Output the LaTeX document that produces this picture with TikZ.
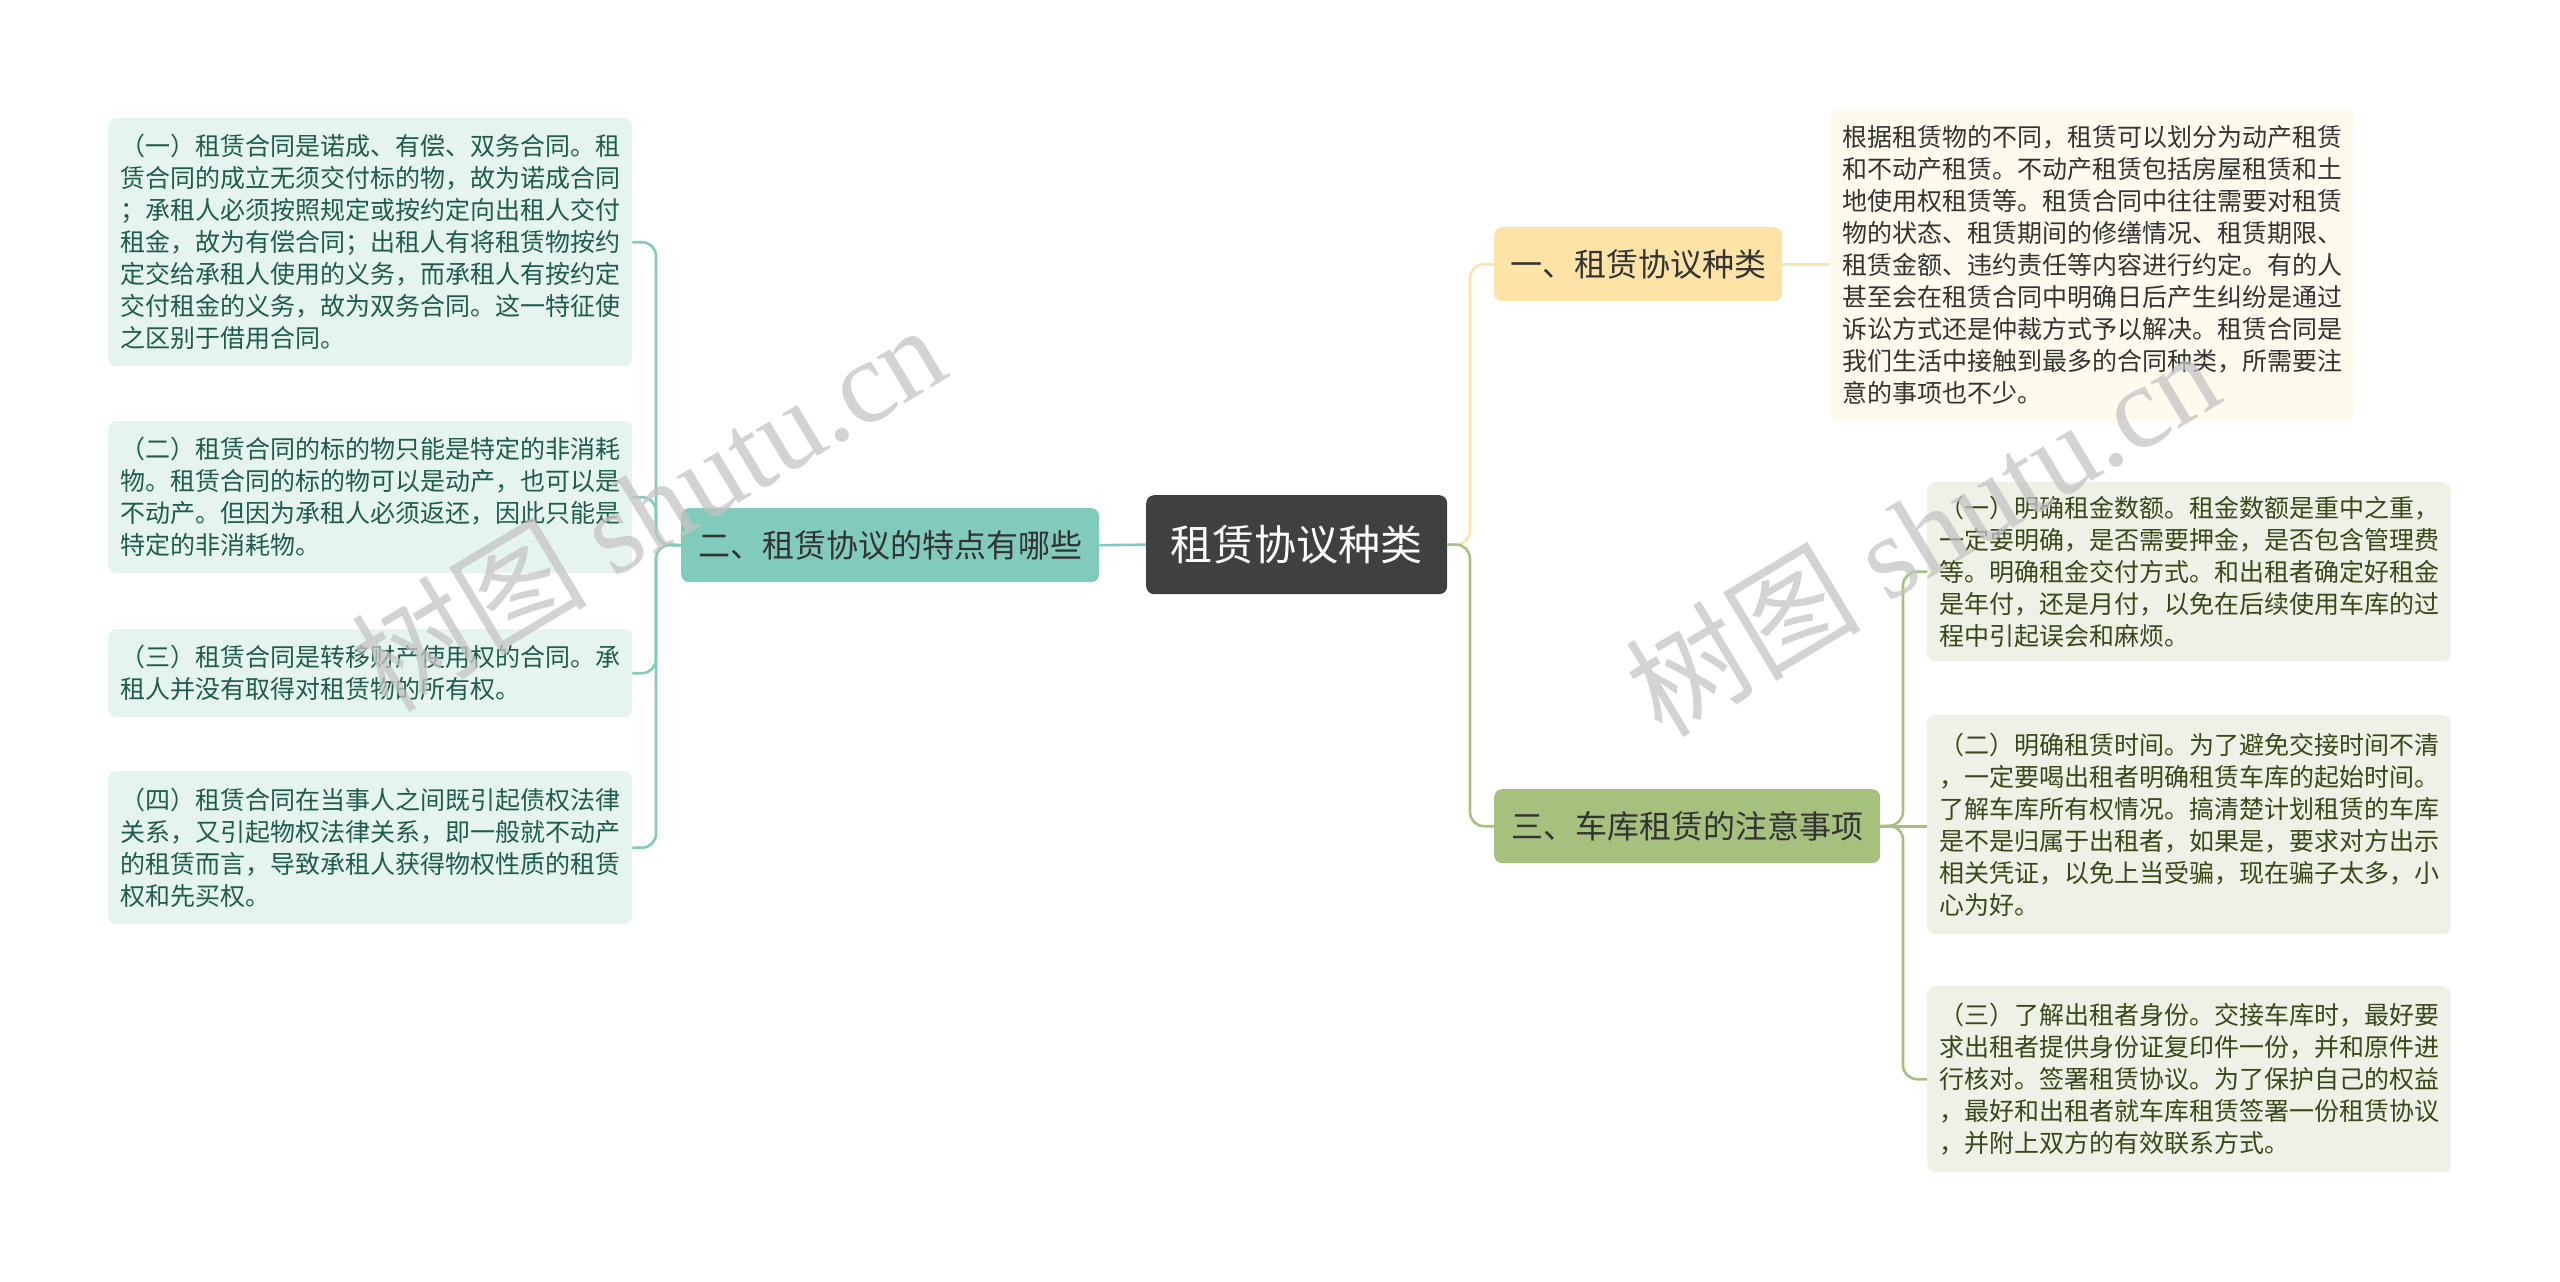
\documentclass[tikz,border=0pt]{standalone}
\usepackage{fontspec}
\newfontfamily\cjk{Noto Sans CJK SC}
\newfontfamily\wmlatin{Liberation Serif}
\definecolor{centerfill}{HTML}{404040}
\definecolor{tealfill}{HTML}{80CBBC}
\definecolor{tealline}{HTML}{80CBBC}
\definecolor{orangefill}{HTML}{FEE3A7}
\definecolor{orangeline}{HTML}{FCE4AC}
\definecolor{greenfill}{HTML}{A6C07E}
\definecolor{greenline}{HTML}{A6C07E}
\definecolor{mintfill}{HTML}{E6F4F0}
\definecolor{minttext}{HTML}{1E5C4E}
\definecolor{creamfill}{HTML}{FEFBEE}
\definecolor{creamtext}{HTML}{333333}
\definecolor{olivefill}{HTML}{EEF2E6}
\definecolor{olivetext}{HTML}{3A4719}
\definecolor{wm}{HTML}{C4C4C4}
\begin{document}
\begin{tikzpicture}[x=1pt,y=-1pt,
  base/.style={rounded corners=8pt, inner ysep=0pt, anchor=north west, font=\cjk},
  centerbox/.style={base, fill=centerfill, text=white, font=\cjk\fontsize{42}{50}\selectfont, minimum width=301pt, minimum height=99pt, inner xsep=0pt},
  branchbox/.style={base, text=creamtext, font=\cjk\fontsize{32}{40}\selectfont, minimum height=74pt, inner xsep=0pt},
  leafbox/.style={base, font=\cjk\fontsize{25}{32}\selectfont, text width=500pt, inner xsep=12pt, align=left},
  leafL/.style={leafbox, fill=mintfill, text=minttext},
  leafT/.style={leafbox, fill=creamfill, text=creamtext},
  leafR/.style={leafbox, fill=olivefill, text=olivetext},
  conn/.style={line width=2.6pt, rounded corners=14pt},
  watermark/.style={text=wm, opacity=0.75, rotate=31, font=\fontsize{118}{124}\selectfont}
]
\useasboundingbox (0,0) rectangle (2560,1282);

% central and branch nodes
\node[centerbox] (c) at (1146,495) {租赁协议种类};
\node[branchbox, fill=tealfill, minimum width=418pt] (b2) at (681,508) {二、租赁协议的特点有哪些};
\node[branchbox, fill=orangefill, minimum width=288pt] (b1) at (1494,227) {一、租赁协议种类};
\node[branchbox, fill=greenfill, minimum width=386pt] (b3) at (1494,789) {三、车库租赁的注意事项};

% left leaves
\node[leafL, minimum height=248pt] (L1) at (108,118) {（一）租赁合同是诺成、有偿、双务合同。租\\赁合同的成立无须交付标的物，故为诺成合同\\；承租人必须按照规定或按约定向出租人交付\\租金，故为有偿合同；出租人有将租赁物按约\\定交给承租人使用的义务，而承租人有按约定\\交付租金的义务，故为双务合同。这一特征使\\之区别于借用合同。};
\node[leafL, minimum height=152pt] (L2) at (108,421) {（二）租赁合同的标的物只能是特定的非消耗\\物。租赁合同的标的物可以是动产，也可以是\\不动产。但因为承租人必须返还，因此只能是\\特定的非消耗物。};
\node[leafL, minimum height=88pt] (L3) at (108,629) {（三）租赁合同是转移财产使用权的合同。承\\租人并没有取得对租赁物的所有权。};
\node[leafL, minimum height=153pt] (L4) at (108,771) {（四）租赁合同在当事人之间既引起债权法律\\关系，又引起物权法律关系，即一般就不动产\\的租赁而言，导致承租人获得物权性质的租赁\\权和先买权。};

% right top leaf
\node[leafT, minimum height=312pt] (T) at (1830,109) {根据租赁物的不同，租赁可以划分为动产租赁\\和不动产租赁。不动产租赁包括房屋租赁和土\\地使用权租赁等。租赁合同中往往需要对租赁\\物的状态、租赁期间的修缮情况、租赁期限、\\租赁金额、违约责任等内容进行约定。有的人\\甚至会在租赁合同中明确日后产生纠纷是通过\\诉讼方式还是仲裁方式予以解决。租赁合同是\\我们生活中接触到最多的合同种类，所需要注\\意的事项也不少。};

% right bottom leaves
\node[leafR, minimum height=179pt] (R1) at (1927,482) {（一）明确租金数额。租金数额是重中之重，\\一定要明确，是否需要押金，是否包含管理费\\等。明确租金交付方式。和出租者确定好租金\\是年付，还是月付，以免在后续使用车库的过\\程中引起误会和麻烦。};
\node[leafR, minimum height=219pt] (R2) at (1927,715) {（二）明确租赁时间。为了避免交接时间不清\\，一定要喝出租者明确租赁车库的起始时间。\\了解车库所有权情况。搞清楚计划租赁的车库\\是不是归属于出租者，如果是，要求对方出示\\相关凭证，以免上当受骗，现在骗子太多，小\\心为好。};
\node[leafR, minimum height=186pt] (R3) at (1927,986) {（三）了解出租者身份。交接车库时，最好要\\求出租者提供身份证复印件一份，并和原件进\\行核对。签署租赁协议。为了保护自己的权益\\，最好和出租者就车库租赁签署一份租赁协议\\，并附上双方的有效联系方式。};

% junction coordinates
\coordinate (rj) at (1470,544.5);
\coordinate (lj) at (656,544.5);
\coordinate (gj) at (1903,825.5);

% connectors
\draw[conn, tealline] (c.west) -- (b2.east);
\draw[conn, orangeline] (c.east) -- (rj) |- (b1.west);
\draw[conn, greenline] (c.east) -- (rj) |- (b3.west);
\draw[conn, orangeline] (b1.east) -- (T.west |- b1.east);
\draw[conn, tealline] (b2.west) -- (lj) |- (L1.east);
\draw[conn, tealline] (b2.west) -- (lj) |- (L2.east);
\draw[conn, tealline] (b2.west) -- (lj) |- (L3.east);
\draw[conn, tealline] (b2.west) -- (lj) |- (L4.east);
\draw[conn, greenline] (b3.east) -- (gj) |- (R1.west);
\draw[conn, greenline] (b3.east) -- (R2.west |- b3.east);
\draw[conn, greenline] (b3.east) -- (gj) |- (R3.west);

% watermarks
\node[watermark] (w1) at (648,506) {\cjk 树图\ \wmlatin shutu.cn};
\node[watermark] (w2) at (1922,531) {\cjk 树图\ \wmlatin shutu.cn};
\end{tikzpicture}
\end{document}
